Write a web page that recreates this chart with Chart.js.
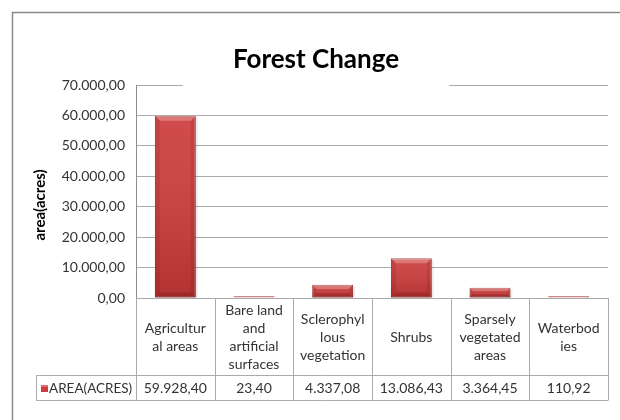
<!DOCTYPE html>
<html>
<head>
<meta charset="utf-8">
<script src="https://cdn.jsdelivr.net/npm/chart.js@4.4.0/dist/chart.umd.min.js"></script>
<style>
  html, body { margin: 0; padding: 0; background: #ffffff; }
  #wrap { position: relative; width: 620px; height: 420px; overflow: hidden; }
  canvas { display: block; }
</style>
</head>
<body>
<div id="wrap"><canvas id="chart" width="620" height="420"></canvas></div>
<script>
// ---- data ----
const chartTitle = 'Forest Change';
const yAxisTitle = 'area(acres)';
const seriesName = 'AREA(ACRES)';
const categories = [
  ['Agricultur', 'al areas'],
  ['Bare land', 'and', 'artificial', 'surfaces'],
  ['Sclerophyl', 'lous', 'vegetation'],
  ['Shrubs'],
  ['Sparsely', 'vegetated', 'areas'],
  ['Waterbod', 'ies']
];
const areaAcres = [59928.40, 23.40, 4337.08, 13086.43, 3364.45, 110.92];
const yMin = 0;
const yMax = 70000;
const yStep = 10000;

// ---- styling ----
const FONT = 'Lato, "Open Sans", sans-serif';
const GRID = '#ababab';
const AXIS = '#8c8c8c';
const TEXT = '#333333';
const BAR_RED = '#cc3c3c';
const LABEL_ROW_H = 77;   // height of the category-name row under the plot
const DATA_ROW_H = 25;    // height of the value row
const LEGEND_LEFT = 36;   // left edge of the series-name cell

// European number format: 59.928,40
function fmt(v) {
  const neg = v < 0;
  const parts = Math.abs(v).toFixed(2).split('.');
  const intPart = parts[0].replace(/\B(?=(\d{3})+(?!\d))/g, '.');
  return (neg ? '-' : '') + intPart + ',' + parts[1];
}

// Outer frame of the chart object
const framePlugin = {
  id: 'frame',
  beforeDraw(chart) {
    const ctx = chart.ctx;
    ctx.save();
    ctx.fillStyle = '#ffffff';
    ctx.fillRect(0, 0, chart.width, chart.height);
    ctx.strokeStyle = '#8a8a8a';
    ctx.lineWidth = 1.5;
    ctx.strokeRect(12.5, 12.5, chart.width + 20, chart.height + 20);
    ctx.restore();
  }
};

// Title (sits over the top gridline) and the rotated axis title
const titlePlugin = {
  id: 'titles',
  beforeDatasetsDraw(chart) {
    const { ctx, chartArea } = chart;
    ctx.save();
    ctx.font = 'bold 26px ' + FONT;
    const cx = 316;
    const w = ctx.measureText(chartTitle).width;
    const gap = w / 2 + 50;
    ctx.fillStyle = '#ffffff';
    ctx.fillRect(cx - gap, chartArea.top - 2, gap * 2, 4);
    ctx.fillStyle = '#000000';
    ctx.textAlign = 'center';
    ctx.textBaseline = 'alphabetic';
    ctx.fillText(chartTitle, cx, 68);

    ctx.translate(40, 205);
    ctx.rotate(-Math.PI / 2);
    ctx.font = 'bold 15px ' + FONT;
    ctx.textBaseline = 'middle';
    ctx.fillText(yAxisTitle, 0, 0);
    ctx.restore();
  }
};

// Soft shadow behind each bar
const shadowPlugin = {
  id: 'barShadow',
  beforeDatasetsDraw(chart) {
    const ctx = chart.ctx;
    const meta = chart.getDatasetMeta(0);
    ctx.save();
    meta.data.forEach(el => {
      const h = el.base - el.y;
      if (h < 3) return;
      ctx.fillStyle = 'rgba(0,0,0,0.08)';
      ctx.fillRect(el.x - el.width / 2 + 2, el.y + 2, el.width, h - 2);
    });
    ctx.restore();
  }
};

// Bevel shading on the bars
const bevelPlugin = {
  id: 'barBevel',
  afterDatasetsDraw(chart) {
    const ctx = chart.ctx;
    const meta = chart.getDatasetMeta(0);
    ctx.save();
    meta.data.forEach(el => {
      const l = el.x - el.width / 2, r = el.x + el.width / 2;
      const t = el.y, b = el.base;
      const h = b - t;
      if (h < 3) {
        ctx.fillStyle = 'rgba(255,255,255,0.45)';
        ctx.fillRect(l, t, r - l, h);
        return;
      }
      const g = ctx.createLinearGradient(0, t, 0, b);
      g.addColorStop(0, 'rgba(255,255,255,0.08)');
      g.addColorStop(1, 'rgba(60,0,0,0.18)');
      ctx.fillStyle = g;
      ctx.fillRect(l, t, r - l, h);
      const bv = Math.min(5, h / 3);
      // top bevel
      ctx.fillStyle = 'rgba(255,255,255,0.25)';
      ctx.beginPath();
      ctx.moveTo(l, t); ctx.lineTo(r, t); ctx.lineTo(r - bv, t + bv); ctx.lineTo(l + bv, t + bv);
      ctx.closePath(); ctx.fill();
      // side bevels
      ctx.fillStyle = 'rgba(90,0,0,0.10)';
      ctx.beginPath();
      ctx.moveTo(l, t); ctx.lineTo(l + bv, t + bv); ctx.lineTo(l + bv, b - bv); ctx.lineTo(l, b);
      ctx.closePath(); ctx.fill();
      ctx.beginPath();
      ctx.moveTo(r, t); ctx.lineTo(r - bv, t + bv); ctx.lineTo(r - bv, b - bv); ctx.lineTo(r, b);
      ctx.closePath(); ctx.fill();
      // bottom bevel
      ctx.fillStyle = 'rgba(70,0,0,0.18)';
      ctx.beginPath();
      ctx.moveTo(l, b); ctx.lineTo(r, b); ctx.lineTo(r - bv, b - bv); ctx.lineTo(l + bv, b - bv);
      ctx.closePath(); ctx.fill();
    });
    ctx.restore();
  }
};

// Data table under the plot: category names, series key and values
const tablePlugin = {
  id: 'dataTable',
  afterDraw(chart) {
    const { ctx, chartArea, scales } = chart;
    const x = scales.x;
    const n = categories.length;
    const colW = (chartArea.right - chartArea.left) / n;
    const top = chartArea.bottom;
    const rowTop = top + LABEL_ROW_H;
    const rowBottom = rowTop + DATA_ROW_H;
    ctx.save();
    ctx.strokeStyle = GRID;
    ctx.lineWidth = 1;
    const px = v => Math.round(v) + 0.5;

    // vertical separators
    for (let i = 0; i <= n; i++) {
      const xx = px(x.getPixelForValue(0) - colW / 2 + i * colW);
      ctx.beginPath();
      ctx.moveTo(xx, top);
      ctx.lineTo(xx, rowBottom);
      ctx.stroke();
    }
    // value row borders
    ctx.beginPath();
    ctx.moveTo(px(LEGEND_LEFT), px(rowTop));
    ctx.lineTo(px(chartArea.right), px(rowTop));
    ctx.moveTo(px(LEGEND_LEFT), px(rowBottom));
    ctx.lineTo(px(chartArea.right), px(rowBottom));
    ctx.moveTo(px(LEGEND_LEFT), px(rowTop));
    ctx.lineTo(px(LEGEND_LEFT), px(rowBottom));
    ctx.stroke();

    ctx.fillStyle = TEXT;
    ctx.textAlign = 'center';
    ctx.textBaseline = 'middle';
    ctx.font = '14px ' + FONT;
    const lh = 18;
    const midLabel = top + 39;
    categories.forEach((lines, i) => {
      const cx = x.getPixelForValue(i);
      const start = midLabel - (lines.length - 1) * lh / 2;
      lines.forEach((s, k) => ctx.fillText(s, cx, start + k * lh));
    });
    const midRow = rowTop + DATA_ROW_H / 2 + 1;
    areaAcres.forEach((v, i) => ctx.fillText(fmt(v), x.getPixelForValue(i), midRow));

    // series key
    ctx.fillStyle = BAR_RED;
    ctx.fillRect(41, Math.round(midRow) - 4, 7, 7);
    ctx.fillStyle = 'rgba(255,255,255,0.25)';
    ctx.fillRect(41, Math.round(midRow) - 4, 7, 2);
    ctx.fillStyle = TEXT;
    ctx.textAlign = 'left';
    ctx.font = '13.5px ' + FONT;
    ctx.fillText(seriesName, 49, midRow);
    ctx.restore();
  }
};

new Chart(document.getElementById('chart'), {
  type: 'bar',
  data: {
    labels: categories,
    datasets: [{
      label: seriesName,
      data: areaAcres,
      backgroundColor: BAR_RED,
      borderColor: '#a32a2a',
      borderWidth: 1,
      borderSkipped: false,
      barPercentage: 0.52,
      categoryPercentage: 1.0,
      minBarLength: 2
    }]
  },
  options: {
    responsive: false,
    animation: false,
    devicePixelRatio: 1,
    layout: { padding: { top: 85, right: 12, bottom: 122, left: 0 } },
    plugins: {
      legend: { display: false },
      title: { display: false },
      tooltip: { enabled: false }
    },
    scales: {
      x: { display: false, offset: true },
      y: {
        min: yMin,
        max: yMax,
        afterFit(scale) { scale.width = 136; },
        ticks: {
          stepSize: yStep,
          padding: 11,
          color: TEXT,
          font: { family: FONT, size: 14 },
          callback: v => fmt(v)
        },
        grid: { color: GRID, drawTicks: false },
        border: { color: AXIS }
      }
    }
  },
  plugins: [framePlugin, titlePlugin, shadowPlugin, bevelPlugin, tablePlugin]
});
</script>
</body>
</html>
